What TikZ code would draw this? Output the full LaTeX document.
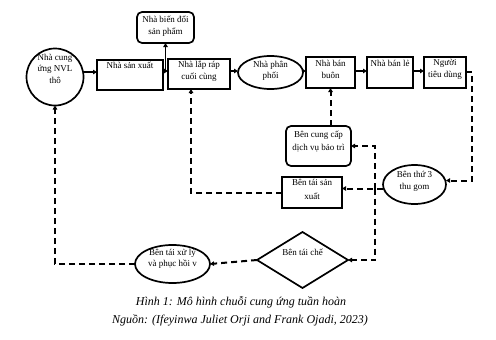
\documentclass[tikz,border=0pt]{standalone}
\usepackage{fontspec}
\setmainfont{Liberation Serif}
\usetikzlibrary{arrows.meta,shapes.geometric}
\begin{document}
\begin{tikzpicture}[x=1pt,y=-1pt,
  shp/.style={draw, line width=1.7pt, inner sep=0pt, outer sep=0pt},
  rbox/.style={shp, rectangle},
  rrbox/.style={shp, rectangle, rounded corners=5pt},
  ell/.style={shp, ellipse},
  txt/.style={font=\fontsize{9}{11.5}\selectfont, align=center, inner sep=0pt},
  captext/.style={font=\fontsize{12}{14}\selectfont\itshape, inner sep=0pt},
  sol/.style={line width=1.7pt, -{Triangle[length=4pt,width=4.5pt]}},
  dsh/.style={line width=2pt, dash pattern=on 6pt off 4pt, -{Triangle[length=4pt,width=4.5pt]}}
]
\useasboundingbox (0,0) rectangle (496,340);

% shapes
\node[shp,circle,minimum size=57pt] (c1) at (55,77) {};
\node[txt] (c1t) at (55,68.5) {Nhà cung\\ứng NVL\\thô};

\node[rbox,minimum width=66pt,minimum height=30pt] (sx) at (130,75) {};
\node[txt,anchor=north] (sxt) at ([yshift=-2pt]sx.north) {Nhà sản xuất};

\node[rrbox,minimum width=57pt,minimum height=31pt] (bd) at (165.5,27.5) {};
\node[txt] (bdt) at (165.5,26) {Nhà biến đổi\\sản phẩm};

\node[rbox,minimum width=62pt,minimum height=30pt] (lr) at (199,74) {};
\node[txt] (lrt) at (199,71) {Nhà lắp ráp\\cuối cùng};

\node[ell,minimum width=65pt,minimum height=33pt] (pp) at (270.5,72.5) {};
\node[txt] (ppt) at (270.5,71) {Nhà phân\\phối};

\node[rbox,minimum width=49pt,minimum height=31pt] (bb) at (330.5,72.5) {};
\node[txt] (bbt) at (330.5,69.5) {Nhà bán\\buôn};

\node[rbox,minimum width=46pt,minimum height=31pt] (bl) at (390,72.5) {};
\node[txt] (blt) at (390,63.5) {Nhà bán lẻ};

\node[rbox,minimum width=42pt,minimum height=31pt] (td) at (445,72.5) {};
\node[txt] (tdt) at (445,69.5) {Người\\tiêu dùng};

\node[ell,minimum width=63pt,minimum height=39pt] (bt3) at (414.5,184.5) {};
\node[txt] (bt3t) at (414.5,181.5) {Bên thứ 3\\thu gom};

\node[rrbox,minimum width=65pt,minimum height=40pt] (bt) at (318.5,146) {};
\node[txt] (btt) at (318.5,141) {Bên cung cấp\\[1.5pt]dịch vụ bảo trì};

\node[rbox,minimum width=60pt,minimum height=31pt] (tsx) at (312,192.5) {};
\node[txt] (tsxt) at (312,189.5) {Bên tái sản\\[3pt]xuất};

\node[shp,diamond,minimum width=91pt,minimum height=56pt] (dia) at (302.5,260) {};
\node[txt] (diat) at (302.5,252) {Bên tái chế};

\node[ell,minimum width=75pt,minimum height=38pt] (xl) at (172.5,264) {};
\node[txt] (xlt) at (172.5,259) {Bên tái xử lý\\và phục hồi v};

% caption
\node[captext] (cap1) at (241,302) {Hình 1: Mô hình chuỗi cung ứng tuần hoàn};
\node[captext] (cap2) at (240,320) {Nguồn: (Ifeyinwa Juliet Orji and Frank Ojadi, 2023)};

% solid connectors
\draw[sol] (c1.10) -- (sx.west |- c1.10);
\coordinate (j1) at (bd.south |- 0,71);
\draw[sol] (sx.east |- j1) -- (lr.west |- j1);
\draw[sol] (j1) -- (bd.south);
\draw[sol] (lr.east |- 0,71) -- (pp.west |- 0,71);
\draw[sol] (pp.east |- 0,71) -- (bb.west |- 0,71);
\draw[sol] (bb.east |- 0,71) -- (bl.west |- 0,71);
\draw[sol] (bl.east |- 0,71) -- (td.west |- 0,71);

% dashed connectors
\coordinate (r1) at (472,72);
\draw[dsh] (td.east |- r1) -- (r1) |- ([yshift=4pt]bt3.east);
\coordinate (j2) at (375,188.5);
\draw[dsh] ([yshift=-4pt]bt3.west) -- (tsx.east |- j2);
\draw[dsh] (j2) |- (bt.east);
\draw[dsh] (j2) |- (dia.east);
\draw[dsh] (tsx.west) -| ([xshift=-8pt]lr.south);
\draw[dsh] (bt.north -| bb.south) -- (bb.south);
\draw[dsh] (dia.west) -- (xl.east);
\draw[dsh] (xl.west) -| (c1.south);
\end{tikzpicture}
\end{document}
